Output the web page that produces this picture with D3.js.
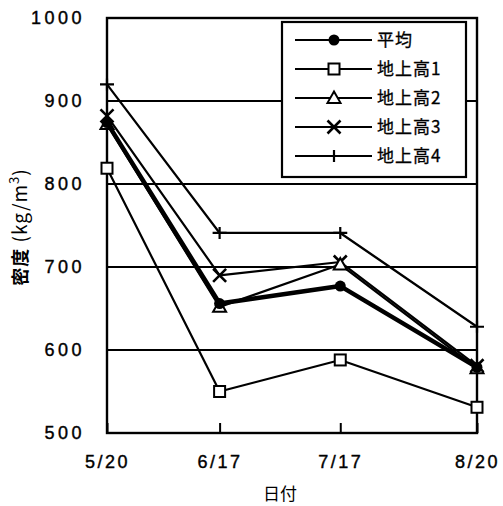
<!DOCTYPE html>
<html>
<head>
<meta charset="utf-8">
<script src="https://cdn.jsdelivr.net/npm/d3@7"></script>
<style>
  html, body { margin: 0; padding: 0; background: #fff; }
  svg { display: block; }
</style>
</head>
<body>
<div id="chart"></div>
<script>
// Measurement dates and density (kg/m3) per height
const dates = ["5/20", "6/17", "7/17", "8/20"];
const avgVals = [874, 656, 677, 579];
const h1Vals = [819, 550, 588, 531];
const h2Vals = [872, 652, 703, 578];
const h3Vals = [882, 690, 706, 581];
const h4Vals = [920, 741, 741, 628];
const seriesNames = ["平均", "地上高1", "地上高2", "地上高3", "地上高4"];
const yTicks = [500, 600, 700, 800, 900, 1000];

const W = 503, H = 506;
const margin = { left: 107, right: 26, top: 18, bottom: 73 };
const numFont = "'Liberation Sans', Arial, sans-serif";
const jpFont = "'Noto Sans CJK JP', sans-serif";

const parse = d => new Date(2000, +d.split("/")[0] - 1, +d.split("/")[1]);
const dateObjs = dates.map(parse);

const svg = d3.select("#chart").append("svg")
  .attr("width", W).attr("height", H);

const x = d3.scaleTime()
  .domain([dateObjs[0], dateObjs[dateObjs.length - 1]])
  .range([margin.left, W - margin.right]);
const y = d3.scaleLinear()
  .domain([500, 1000])
  .range([H - margin.bottom, margin.top]);

const series = [
  { name: seriesNames[0], vals: avgVals, marker: "circle", width: 4.5 },
  { name: seriesNames[1], vals: h1Vals, marker: "square", width: 2.2 },
  { name: seriesNames[2], vals: h2Vals, marker: "triangle", width: 2.2 },
  { name: seriesNames[3], vals: h3Vals, marker: "cross", width: 2.2 },
  { name: seriesNames[4], vals: h4Vals, marker: "plus", width: 2.2 }
];

// Horizontal gridlines
svg.append("g").selectAll("line")
  .data(yTicks.filter(t => t > 500 && t < 1000))
  .join("line")
  .attr("x1", x.range()[0]).attr("x2", x.range()[1])
  .attr("y1", d => y(d)).attr("y2", d => y(d))
  .attr("stroke", "#000").attr("stroke-width", 2.2);

// Frame
svg.append("rect")
  .attr("x", x.range()[0]).attr("y", y(1000))
  .attr("width", x.range()[1] - x.range()[0])
  .attr("height", y(500) - y(1000))
  .attr("fill", "none").attr("stroke", "#000").attr("stroke-width", 2.4);

// Bottom axis ticks (inward) and labels
const xAxis = d3.axisBottom(x).tickValues(dateObjs).tickSize(-10)
  .tickFormat((d, i) => dates[i]).tickPadding(22);
const gx = svg.append("g").attr("transform", `translate(0,${y(500)})`).call(xAxis);
gx.select(".domain").remove();
gx.selectAll(".tick line").attr("stroke", "#000").attr("stroke-width", 2);
gx.selectAll(".tick text")
  .attr("font-size", 18).attr("letter-spacing", 2.5).attr("fill", "#000")
  .attr("stroke", "#000").attr("stroke-width", 0.4)
  .attr("font-family", numFont);

// Left axis labels
const yAxis = d3.axisLeft(y).tickValues(yTicks).tickSize(0).tickPadding(22).tickFormat(d3.format("d"));
const gy = svg.append("g").attr("transform", `translate(${x.range()[0]},0)`).call(yAxis);
gy.select(".domain").remove();
gy.selectAll(".tick text")
  .attr("font-size", 18).attr("letter-spacing", 3.5).attr("fill", "#000")
  .attr("stroke", "#000").attr("stroke-width", 0.4)
  .attr("font-family", numFont);

// Axis titles
svg.append("text")
  .attr("x", (x.range()[0] + x.range()[1]) / 2 - 12).attr("y", 500)
  .attr("text-anchor", "middle").attr("font-size", 17)
  .attr("font-family", jpFont).text("日付");

const yt = svg.append("text")
  .attr("transform", `translate(27,227) rotate(-90)`)
  .attr("text-anchor", "middle").attr("font-size", 19)
  .attr("letter-spacing", 1)
  .attr("font-family", jpFont);
yt.append("tspan").attr("font-weight", "bold").attr("font-size", 18).text("密度");
yt.append("tspan").text("  (kg/m");
yt.append("tspan").attr("dy", -8).attr("font-size", 13).text("3");
yt.append("tspan").attr("dy", 8).text(")");

// Marker drawing
function drawMarker(g, type, cx, cy) {
  if (type === "circle") {
    g.append("circle").attr("cx", cx).attr("cy", cy).attr("r", 5.5).attr("fill", "#000");
  } else if (type === "square") {
    g.append("rect").attr("x", cx - 5.5).attr("y", cy - 5.5).attr("width", 11).attr("height", 11)
      .attr("fill", "#fff").attr("stroke", "#000").attr("stroke-width", 2);
  } else if (type === "triangle") {
    const s = 6.5;
    g.append("path").attr("d", `M${cx},${cy - s}L${cx + s},${cy + s * 0.75}L${cx - s},${cy + s * 0.75}Z`)
      .attr("fill", "#fff").attr("stroke", "#000").attr("stroke-width", 2);
  } else if (type === "cross") {
    const s = 6.5;
    g.append("path").attr("d", `M${cx - s},${cy - s}L${cx + s},${cy + s}M${cx + s},${cy - s}L${cx - s},${cy + s}`)
      .attr("stroke", "#000").attr("stroke-width", 2.6).attr("fill", "none");
  } else if (type === "plus") {
    g.append("path").attr("d", `M${cx - 7},${cy}L${cx + 7},${cy}M${cx},${cy - 6}L${cx},${cy + 6}`)
      .attr("stroke", "#000").attr("stroke-width", 2.2).attr("fill", "none");
  }
}

const line = d3.line().x((d, i) => x(dateObjs[i])).y(d => y(d));

// Draw thin series first, average on top
const order = [4, 3, 2, 1, 0];
order.forEach(k => {
  const s = series[k];
  const g = svg.append("g");
  g.append("path").datum(s.vals).attr("d", line)
    .attr("fill", "none").attr("stroke", "#000").attr("stroke-width", s.width)
    .attr("stroke-linejoin", "round");
  s.vals.forEach((v, i) => drawMarker(g, s.marker, x(dateObjs[i]), y(v)));
});

// Legend
const lg = svg.append("g");
lg.append("rect").attr("x", 282).attr("y", 22).attr("width", 184).attr("height", 155)
  .attr("fill", "#fff").attr("stroke", "#000").attr("stroke-width", 2.2);
const rowY = d3.scalePoint().domain(seriesNames).range([40, 156]);
series.forEach(s => {
  const ry = rowY(s.name);
  lg.append("line").attr("x1", 295).attr("x2", 372).attr("y1", ry).attr("y2", ry)
    .attr("stroke", "#000").attr("stroke-width", 2.2);
  drawMarker(lg, s.marker, 334, ry);
  lg.append("text").attr("x", 377).attr("y", ry + 6).attr("font-size", 17)
    .attr("letter-spacing", 1).attr("stroke", "#000").attr("stroke-width", 0.3)
    .attr("font-family", jpFont).text(s.name);
});
</script>
</body>
</html>
